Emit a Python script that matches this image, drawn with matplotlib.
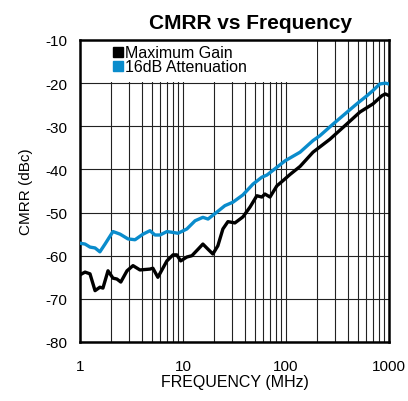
import numpy as np
import matplotlib
matplotlib.use("Agg")
import matplotlib.pyplot as plt
from matplotlib.lines import Line2D
from matplotlib.patches import Rectangle
import matplotlib.ticker as ticker

# ── Data ──────────────────────────────────────────────────────────────────────

freq_max = [1.0, 1.04, 1.12, 1.25, 1.40, 1.56, 1.67, 1.87, 2.09, 2.28, 2.49,
            2.86, 3.27, 3.82, 4.78, 5.1, 5.7, 6.98, 8.0, 8.7, 9.5, 10.9, 12.2,
            14.0, 15.6, 17.5, 19.5, 21.8, 24.4, 27.3, 31.9, 38.2, 44.8, 52.1,
            58.3, 62.4, 69.9, 81.6, 93.5, 109, 137, 183, 267, 388, 522, 700,
            855, 920, 1000]
cmrr_max = [-64.5, -64.2, -63.8, -64.2, -68.1, -67.3, -67.5, -63.5, -65.2,
            -65.4, -66.1, -63.5, -62.3, -63.3, -63.1, -62.9, -65.0, -61.2,
            -59.8, -59.8, -61.2, -60.3, -60.0, -58.5, -57.3, -58.5, -59.6,
            -57.7, -53.8, -52.1, -52.4, -51.0, -48.7, -46.1, -46.4, -45.7,
            -46.4, -43.8, -42.6, -41.2, -39.3, -36.0, -33.0, -29.5, -26.7,
            -24.8, -22.9, -22.5, -22.9]

freq_att = [1.0, 1.12, 1.25, 1.40, 1.56, 1.75, 2.09, 2.45, 2.92, 3.42, 4.09,
            4.78, 5.34, 5.98, 6.98, 8.0, 8.94, 10.9, 13.1, 15.6, 17.5, 21.3,
            25.5, 30.5, 38.2, 47.8, 58.3, 65.3, 81.6, 98, 137, 183, 213, 286,
            388, 487, 612, 700, 812, 920, 1000]
cmrr_att = [-57.1, -57.3, -58.0, -58.2, -59.1, -57.3, -54.4, -55.0, -56.1,
            -56.3, -55.0, -54.2, -55.2, -55.2, -54.4, -54.6, -54.8, -53.8,
            -51.9, -51.1, -51.5, -49.9, -48.4, -47.6, -45.9, -43.4, -41.8,
            -41.3, -39.5, -38.0, -36.0, -33.3, -32.2, -29.5, -26.8, -24.8,
            -22.9, -21.7, -20.2, -20.0, -20.2]

x_ticks = [1, 10, 100, 1000]
y_ticks = list(range(-80, 0, 10))

BLUE = "#0a8ccc"

plt.rcParams["font.family"] = ["Liberation Sans", "DejaVu Sans"]

fig = plt.figure(figsize=(4.08, 4.02), dpi=100)
ax = fig.add_axes([80 / 408, 1 - 343 / 402, 309 / 408, 302 / 402])

ax.set_xscale("log")
ax.set_xlim(1, 1000)
ax.set_ylim(-80, -10)

ax.plot(freq_max, cmrr_max, color="black", linewidth=2.4, zorder=3,
        solid_joinstyle="round")
ax.plot(freq_att, cmrr_att, color=BLUE, linewidth=2.4, zorder=3,
        solid_joinstyle="round")

# ticks and grid
ax.xaxis.set_major_locator(ticker.FixedLocator(x_ticks))
ax.xaxis.set_major_formatter(ticker.FixedFormatter([str(v) for v in x_ticks]))
ax.xaxis.set_minor_locator(ticker.LogLocator(base=10, subs=np.arange(2, 10)))
ax.xaxis.set_minor_formatter(ticker.NullFormatter())
ax.set_yticks(y_ticks)
ax.set_yticklabels([str(v) for v in y_ticks])
ax.set_axisbelow(True)
ax.grid(True, which="both", axis="x", color="#222222", linewidth=0.8)
ax.grid(True, which="major", axis="y", color="#222222", linewidth=0.8)
ax.tick_params(which="both", length=0)
ax.tick_params(axis="x", pad=12, labelsize=11)
ax.tick_params(axis="y", pad=9, labelsize=11)

for sp in ax.spines.values():
    sp.set_linewidth(1.8)

# white box behind the legend hides the grid there
ax.add_patch(Rectangle((1, -19.75), 199, 10, facecolor="white",
                       edgecolor="none", zorder=1))

handles = [Line2D([], [], linestyle="none", marker="s", markersize=7,
                  color="black"),
           Line2D([], [], linestyle="none", marker="s", markersize=7,
                  color=BLUE)]
ax.legend(handles, ["Maximum Gain", "16dB Attenuation"], loc="upper left",
          bbox_to_anchor=(0.072, 1.02), frameon=False, fontsize=11.5,
          handlelength=0.6, handletextpad=0.15, labelspacing=-0.05,
          borderpad=0.2)

ax.set_xlabel("FREQUENCY (MHz)", fontsize=11.5, labelpad=1)
ax.set_ylabel("CMRR (dBc)", fontsize=11, labelpad=9)
fig.text(250 / 408, 1 - 29 / 402, "CMRR vs Frequency", fontsize=15,
         fontweight="bold", ha="center", va="baseline")

fig.savefig("out.png", dpi=100)
